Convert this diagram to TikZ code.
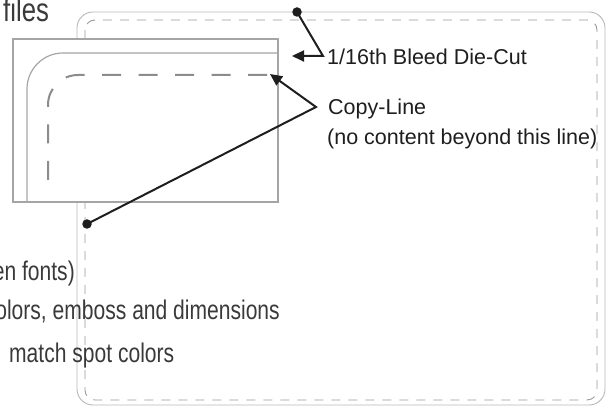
\documentclass[tikz,border=0pt]{standalone}
\usepackage{fontspec}
\setmainfont{Liberation Sans}
\newfontfamily\condfont[FakeStretch=0.78]{Liberation Sans}
\usetikzlibrary{arrows.meta}
\definecolor{outerline}{HTML}{B8B8B8}
\definecolor{dashline}{HTML}{9A9A9A}
\definecolor{boxline}{HTML}{A5A5A5}
\definecolor{copydash}{HTML}{8C8C8C}
\definecolor{ink}{HTML}{1E1E1E}
\definecolor{bodytext}{HTML}{3A3A3A}
\tikzset{
  bodyfrag/.style={inner sep=0pt, text=bodytext, font=\condfont\fontsize{27}{32}\selectfont},
  headfrag/.style={inner sep=0pt, text=bodytext, font=\condfont\fontsize{33}{38}\selectfont},
  labeltext/.style={inner sep=0pt, text=ink, font=\fontsize{21.5}{26}\selectfont},
  pointer/.style={draw=ink, line width=2pt, line join=miter},
  pointerarrow/.style={pointer, -{Triangle[length=12pt,width=11pt]}},
  dotmark/.style={circle, fill=ink, inner sep=0pt, minimum size=9.5pt},
}
\begin{document}
\begin{tikzpicture}[x=1pt,y=-1pt]
\useasboundingbox (0,0) rectangle (608,406);
\begin{scope}
\clip (0,0) rectangle (608,406);
% large card
\draw[outerline, line width=0.9pt, rounded corners=16pt] (77,12) rectangle (605,405);
\draw[dashline, line width=0.9pt, rounded corners=10pt, dash pattern=on 9pt off 8pt] (85,20) rectangle (597,400);
% left text fragments
\node[headfrag, anchor=base west] (files) at (3,22) {files};
\node[bodyfrag, anchor=base east] (fonts) at (75,280) {en fonts)};
\node[bodyfrag, anchor=base east] (emboss) at (280,319) {olors, emboss and dimensions};
\node[bodyfrag, anchor=base west] (spot) at (9,362) {match spot colors};
% magnified corner
\draw[boxline, fill=white, line width=1.2pt] (13,39) rectangle (278,202);
\draw[boxline, line width=1.2pt, rounded corners=36pt] (27,202) -- (27,53) -- (278,53);
\draw[copydash, line width=2pt, rounded corners=30pt, dash pattern=on 19pt off 17.5pt] (267,75) -- (48,75) -- (48,192);
% labels
\node[labeltext, anchor=base west] (bleed) at (327,65) {1/16th Bleed Die-Cut};
\node[labeltext, anchor=base west] (copy) at (328,115) {Copy-Line};
\node[labeltext, anchor=base west] (copynote) at (327,145) {(no content beyond this line)};
% pointers
\node[dotmark] (dotA) at (297,12) {};
\coordinate (bendA) at (323,56);
\coordinate (tipA) at (292,56);
\draw[pointerarrow] (dotA.center) -- (bendA) -- (tipA);
\node[dotmark] (dotB) at (87,224) {};
\coordinate (bendB) at (316,107);
\coordinate (tipB) at (270,74);
\draw[pointerarrow] (dotB.center) -- (bendB) -- (tipB);
\end{scope}
\end{tikzpicture}
\end{document}
